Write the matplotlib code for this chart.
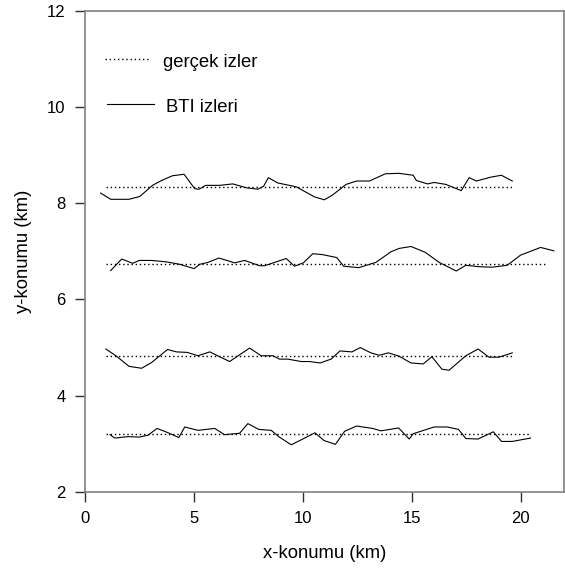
import matplotlib
matplotlib.use("Agg")
import matplotlib.pyplot as plt

plt.rcParams['font.family'] = ['Liberation Sans', 'DejaVu Sans']

# true tracks (dotted): y level, x start, x end
true_y = [8.33, 6.73, 4.82, 3.21]
true_x0 = [0.96, 0.96, 0.96, 0.96]
true_x1 = [19.7, 21.2, 19.7, 20.5]

# estimated (BTI) tracks
x1 = [0.72, 1.18, 2.02, 2.52, 3.10, 3.51, 4.02, 4.55, 5.04, 5.24, 5.54, 6.18, 6.79, 7.41,
      7.94, 8.20, 8.42, 8.85, 9.70, 10.54, 10.99, 11.37, 11.99, 12.47, 13.06, 13.79, 14.40,
      15.07, 15.22, 15.73, 16.03, 16.57, 17.28, 17.64, 17.97, 18.63, 19.12, 19.62]
y1 = [8.21, 8.08, 8.08, 8.14, 8.37, 8.47, 8.57, 8.60, 8.30, 8.29, 8.37, 8.37, 8.40, 8.32,
      8.29, 8.35, 8.53, 8.42, 8.34, 8.13, 8.07, 8.17, 8.39, 8.46, 8.46, 8.61, 8.62,
      8.58, 8.47, 8.40, 8.43, 8.39, 8.26, 8.53, 8.46, 8.54, 8.58, 8.46]

x2 = [1.18, 1.69, 2.19, 2.49, 3.06, 3.74, 4.35, 5.01, 5.27, 5.65, 6.15, 6.87, 7.33, 8.02,
      8.25, 9.24, 9.62, 10.03, 10.46, 10.92, 11.56, 11.88, 12.57, 13.36, 14.05, 14.43, 14.97,
      15.62, 16.26, 17.05, 17.49, 18.09, 18.70, 19.39, 20.00, 20.92, 21.53]
y2 = [6.60, 6.84, 6.75, 6.81, 6.81, 6.78, 6.73, 6.64, 6.73, 6.77, 6.86, 6.76, 6.81, 6.70,
      6.70, 6.85, 6.69, 6.76, 6.95, 6.93, 6.87, 6.69, 6.66, 6.77, 6.99, 7.06, 7.10,
      6.98, 6.77, 6.59, 6.71, 6.68, 6.67, 6.71, 6.92, 7.08, 7.01]

x3 = [0.96, 1.45, 2.02, 2.60, 3.06, 3.79, 4.20, 4.69, 5.19, 5.73, 6.64, 7.56, 8.09, 8.63,
      8.93, 9.31, 9.93, 10.31, 10.80, 11.30, 11.71, 12.26, 12.64, 13.13, 13.51, 13.93, 14.43,
      14.97, 15.53, 15.93, 16.39, 16.72, 17.49, 18.05, 18.55, 19.01, 19.62]
y3 = [4.97, 4.82, 4.61, 4.57, 4.69, 4.96, 4.91, 4.90, 4.83, 4.91, 4.71, 4.99, 4.83, 4.83,
      4.76, 4.76, 4.71, 4.71, 4.68, 4.76, 4.93, 4.91, 5.00, 4.89, 4.84, 4.89, 4.82,
      4.68, 4.66, 4.81, 4.55, 4.53, 4.83, 4.97, 4.80, 4.80, 4.89]

x4 = [1.15, 1.37, 1.98, 2.49, 2.90, 3.31, 3.82, 4.31, 4.58, 5.19, 5.96, 6.41, 7.10, 7.48,
      7.98, 8.55, 8.93, 9.47, 10.00, 10.56, 10.97, 11.50, 11.92, 12.47, 13.21, 13.59, 14.40,
      14.89, 15.07, 16.03, 16.64, 17.15, 17.49, 18.05, 18.75, 19.13, 19.62, 20.46]
y4 = [3.19, 3.12, 3.15, 3.14, 3.18, 3.32, 3.23, 3.13, 3.35, 3.28, 3.32, 3.19, 3.22, 3.42,
      3.30, 3.28, 3.14, 2.98, 3.10, 3.23, 3.07, 2.99, 3.26, 3.37, 3.32, 3.27, 3.33,
      3.10, 3.21, 3.35, 3.35, 3.30, 3.11, 3.10, 3.25, 3.05, 3.05, 3.12]

est_x = [x1, x2, x3, x4]
est_y = [y1, y2, y3, y4]

fig = plt.figure(figsize=(5.65, 5.71), dpi=100)
ax = fig.add_axes([0.1504, 0.1384, 0.848, 0.843])

dotted = (0, (1, 2))
for yv, a, b in zip(true_y, true_x0, true_x1):
    ax.plot([a, b], [yv, yv], color='black', lw=1.0, linestyle=dotted)
for xs, ys in zip(est_x, est_y):
    ax.plot(xs, ys, color='black', lw=0.8)

ax.set_xlim(0, 22)
ax.set_ylim(2, 12)
ax.set_xticks([0, 5, 10, 15, 20])
ax.set_yticks([2, 4, 6, 8, 10, 12])
ax.tick_params(direction='out', length=7, width=1, color='#303030', labelsize=12, pad=7)
for s in ax.spines.values():
    s.set_color('#808080')
    s.set_linewidth(1.2)

ax.set_xlabel('x-konumu (km)', fontsize=13.3)
ax.set_ylabel('y-konumu (km)', fontsize=13.3)
ax.xaxis.set_label_coords(0.5, -0.128)
ax.xaxis.label.set_va('center')
ax.yaxis.set_label_coords(-0.128, 0.5)
ax.yaxis.label.set_va('center')

# legend drawn by hand in axes coordinates
ax.plot([0.042, 0.136], [0.899, 0.899], transform=ax.transAxes, color='black',
        lw=1.0, linestyle=dotted)
ax.text(0.162, 0.882, 'gerçek izler', transform=ax.transAxes, fontsize=13.3, va='baseline')
ax.plot([0.047, 0.144], [0.805, 0.805], transform=ax.transAxes, color='black', lw=0.8)
ax.text(0.169, 0.789, 'BTI izleri', transform=ax.transAxes, fontsize=13.3, va='baseline')

fig.savefig('out.png', dpi=100)
